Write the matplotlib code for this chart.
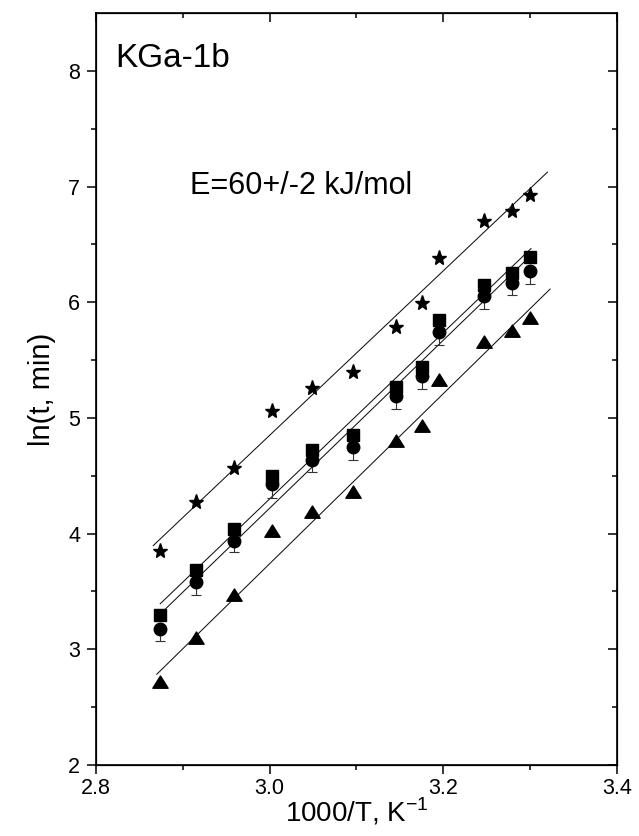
import numpy as np
import matplotlib
matplotlib.use('Agg')
import matplotlib.pyplot as plt
from matplotlib.path import Path

plt.rcParams['font.family'] = ['Liberation Sans', 'DejaVu Sans']

# 1000/T, K^-1
x = [2.874, 2.915, 2.959, 3.003, 3.049, 3.096, 3.145, 3.175, 3.195, 3.247, 3.279, 3.300]

# ln(t, min) das quatro series
y_star = [3.85, 4.27, 4.57, 5.06, 5.26, 5.40, 5.79, 5.99, 6.38, 6.70, 6.79, 6.93]
y_square = [3.30, 3.69, 4.04, 4.50, 4.72, 4.85, 5.27, 5.44, 5.85, 6.15, 6.25, 6.39]
y_circle = [3.18, 3.58, 3.94, 4.43, 4.64, 4.75, 5.19, 5.36, 5.74, 6.05, 6.17, 6.27]
y_circle_err = [0.11, 0.11, 0.10, 0.12, 0.11, 0.11, 0.11, 0.11, 0.11, 0.11, 0.11, 0.11]
y_triangle = [2.72, 3.10, 3.47, 4.02, 4.19, 4.36, 4.80, 4.93, 5.33, 5.66, 5.75, 5.86]

# retas ajustadas: inclinacao, intercepto, intervalo em x
fit_slope = [7.11, 7.19, 7.26, 7.35]
fit_intercept = [-16.48, -17.27, -17.56, -18.31]
fit_xmin = [2.866, 2.874, 2.879, 2.870]
fit_xmax = [3.320, 3.301, 3.298, 3.323]

# triangulo um pouco achatado (estilo Origin)
tri = Path([(-1, -0.75), (1, -0.75), (0, 0.85), (-1, -0.75)],
           [Path.MOVETO, Path.LINETO, Path.LINETO, Path.CLOSEPOLY])

fig = plt.figure(figsize=(6.39, 8.36), dpi=100)
ax = fig.add_axes([0.1502, 0.0849, 0.8153, 0.8995])

# retas
for k in range(4):
    xf = np.array([fit_xmin[k], fit_xmax[k]])
    ax.plot(xf, fit_intercept[k] + fit_slope[k] * xf, color='#111111', lw=0.75, zorder=1)

# pontos
ax.errorbar(x, y_circle, yerr=[y_circle_err, [0] * len(x)], fmt='none',
            ecolor='#333333', elinewidth=0.8, capsize=3.6, capthick=0.8, zorder=2)
ax.plot(x, y_square, 's', color='black', ms=8, zorder=3)
ax.plot(x, y_circle, 'o', color='black', ms=9, zorder=3)
ax.plot(x, y_triangle, marker=tri, ls='none', color='black', ms=11, zorder=3)
ax.plot(x, y_star, '*', color='black', ms=11, zorder=3)

ax.set_xlim(2.8, 3.4)
ax.set_ylim(2, 8.5)
ax.set_xticks([2.8, 3.0, 3.2, 3.4])
ax.set_xticklabels(['2.8', '3.0', '3.2', '3.4'])
ax.set_xticks([2.9, 3.1, 3.3], minor=True)
ax.set_yticks([2, 3, 4, 5, 6, 7, 8])
ax.set_yticks([2.5, 3.5, 4.5, 5.5, 6.5, 7.5], minor=True)
ax.tick_params(which='major', direction='out', length=6.5, width=1.1, labelsize=15.5)
ax.tick_params(axis='x', which='major', pad=3)
ax.tick_params(axis='y', which='major', pad=5)
ax.tick_params(which='minor', direction='out', length=3.3, width=1.1)
for s in ax.spines.values():
    s.set_linewidth(1.2)

# eixos espelhados (topo e direita) com ticks para dentro
axt = ax.twiny()
axt.set_xlim(ax.get_xlim())
axt.set_xticks(ax.get_xticks())
axt.set_xticks([2.9, 3.1, 3.3], minor=True)
axt.tick_params(which='major', direction='in', length=6.5, width=1.1, labeltop=False)
axt.tick_params(which='minor', direction='in', length=3.3, width=1.1)
axr = ax.twinx()
axr.set_ylim(ax.get_ylim())
axr.set_yticks(ax.get_yticks())
axr.set_yticks([2.5, 3.5, 4.5, 5.5, 6.5, 7.5], minor=True)
axr.tick_params(which='major', direction='in', length=6.5, width=1.1, labelright=False)
axr.tick_params(which='minor', direction='in', length=3.3, width=1.1)

ax.set_xlabel('1000/T, K$^{\\mathregular{-1}}$', fontsize=20, labelpad=-2)
ax.set_ylabel('ln(t, min)', fontsize=21, labelpad=9)

ax.text(2.822, 8.03, 'KGa-1b', fontsize=24, va='baseline', ha='left')
ax.text(2.908, 6.94, 'E=60+/-2 kJ/mol', fontsize=22, va='baseline', ha='left')

fig.savefig('out.png', dpi=100)
